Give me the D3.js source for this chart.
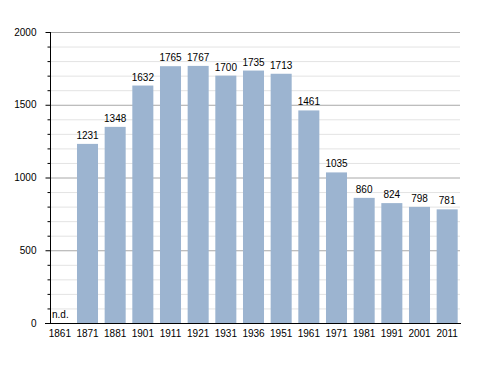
<!DOCTYPE html>
<html>
  <head>
    <meta charset="utf-8">
    <script src="https://d3js.org/d3.v7.min.js"></script>
    <style>
      body { margin: 0; background: #fff; }
      text { font-family: "Liberation Sans", Arial, sans-serif; font-size: 10px; fill: #000; }
    </style>
  </head>
  <body>
    <svg width="488" height="373"></svg>
    <script>
      var years = ["1861", "1871", "1881", "1901", "1911", "1921", "1931", "1936", "1951", "1961", "1971", "1981", "1991", "2001", "2011"];
      var population = [null, 1231, 1348, 1632, 1765, 1767, 1700, 1735, 1713, 1461, 1035, 860, 824, 798, 781];
      var yTicks = [0, 500, 1000, 1500, 2000];

      var svg = d3.select("svg");

      var x = d3.scaleBand()
          .domain(years)
          .range([46, 461])
          .paddingInner(0.24)
          .paddingOuter(0.12);

      var y = d3.scaleLinear()
          .domain([0, 2000])
          .range([323, 32]);

      var minor = d3.range(0, 2001, 100);

      // minor grid
      svg.append("g").selectAll("line")
          .data(minor.filter(function(d) { return d % 500 !== 0; }))
          .enter().append("line")
          .attr("x1", 50).attr("x2", 460)
          .attr("y1", function(d) { return y(d) + 0.5; })
          .attr("y2", function(d) { return y(d) + 0.5; })
          .attr("stroke", "#e3e3e3");

      // major grid
      svg.append("g").selectAll("line")
          .data(yTicks.filter(function(d) { return d > 0; }))
          .enter().append("line")
          .attr("x1", 50).attr("x2", 460)
          .attr("y1", function(d) { return y(d) + 0.5; })
          .attr("y2", function(d) { return y(d) + 0.5; })
          .attr("stroke", "#a8a8a8");

      var data = years.map(function(d, i) { return {year: d, value: population[i]}; });
      var valid = data.filter(function(d) { return d.value !== null; });

      svg.selectAll(".bar")
          .data(valid)
          .enter().append("rect")
          .attr("class", "bar")
          .attr("x", function(d) { return x(d.year); })
          .attr("width", x.bandwidth())
          .attr("y", function(d) { return y(d.value); })
          .attr("height", function(d) { return y(0) - y(d.value); })
          .attr("fill", "#9cb4d0");

      svg.selectAll(".lbl")
          .data(valid)
          .enter().append("text")
          .attr("x", function(d) { return x(d.year) + x.bandwidth() / 2; })
          .attr("y", function(d) { return y(d.value) - 5; })
          .attr("text-anchor", "middle")
          .text(function(d) { return d.value; });

      svg.append("text")
          .attr("x", 52)
          .attr("y", y(0) - 5)
          .text("n.d.");

      // y axis
      var yAxis = svg.append("g")
          .attr("transform", "translate(50.5,0)")
          .call(d3.axisLeft(y).tickValues(yTicks).tickSize(5).tickPadding(9).tickFormat(d3.format("d")));
      yAxis.select(".domain").attr("d", "M0," + y(0) + "V" + y(2000));
      yAxis.selectAll("text").style("font-size", "10px").style("font-family", "Liberation Sans, Arial, sans-serif");
      yAxis.append("g").selectAll("line")
          .data(minor.filter(function(d) { return d % 500 !== 0; }))
          .enter().append("line")
          .attr("x1", -3).attr("x2", 0)
          .attr("y1", function(d) { return y(d) + 0.5; })
          .attr("y2", function(d) { return y(d) + 0.5; })
          .attr("stroke", "#000");

      // x axis
      var xAxis = svg.append("g")
          .attr("transform", "translate(0," + (y(0) + 0.5) + ")")
          .call(d3.axisBottom(x).tickSize(0).tickPadding(6));
      xAxis.select(".domain").attr("d", "M45,0H461");
      xAxis.selectAll("text").style("font-size", "10px").style("font-family", "Liberation Sans, Arial, sans-serif");
    </script>
  </body>
</html>
